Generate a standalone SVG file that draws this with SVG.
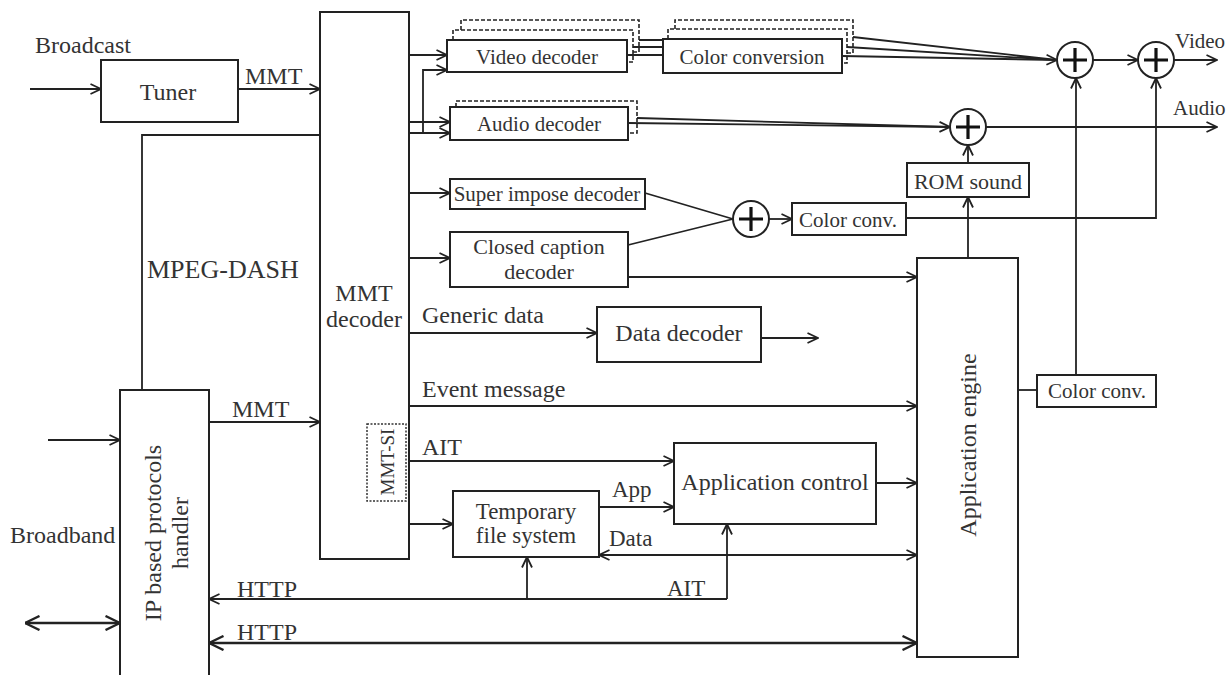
<svg xmlns="http://www.w3.org/2000/svg" width="1231" height="675" viewBox="0 0 1231 675">
<defs>
<marker id="a" viewBox="0 0 12 12" refX="11.5" refY="6" markerWidth="12" markerHeight="12" markerUnits="userSpaceOnUse" orient="auto-start-reverse"><path d="M1,1 L11.5,6 L1,11" fill="none" stroke="#222" stroke-width="1.8"/></marker>
<marker id="b" viewBox="0 0 16 16" refX="15.5" refY="8" markerWidth="16" markerHeight="16" markerUnits="userSpaceOnUse" orient="auto-start-reverse"><path d="M1,1 L15.5,8 L1,15" fill="none" stroke="#222" stroke-width="2.4"/></marker>
<style>
.bx{fill:#fff;stroke:#222;stroke-width:2}
.ds{fill:none;stroke:#222;stroke-width:1.6;stroke-dasharray:4 2}
.ln{fill:none;stroke:#222;stroke-width:1.8}
.ar{fill:none;stroke:#222;stroke-width:1.8;marker-end:url(#a)}
.bi{fill:none;stroke:#222;stroke-width:1.8;marker-end:url(#a);marker-start:url(#a)}
.bb{fill:none;stroke:#222;stroke-width:2.6;marker-end:url(#b);marker-start:url(#b)}
.t{font-family:"Liberation Serif","Times New Roman",serif;fill:#333;font-size:24px}
.s{font-size:21px}
.m{text-anchor:middle}
.c{fill:#fff;stroke:#222;stroke-width:2}
.p{stroke:#111;stroke-width:3.2}
</style>
</defs>

<g id="connectors">
<path class="ar" d="M30,89 H101"/>
<path class="ar" d="M238,89 H320"/>
<path class="ln" d="M320,135 H142 V390"/>
<path class="ar" d="M48,440 H120"/>
<path class="bb" d="M25,623 H120"/>
<path class="ar" d="M209,422 H320"/>
<path class="ar" d="M409,55 H447"/>
<path class="ar" d="M423,133 V70 H447"/>
<path class="ar" d="M409,122 H450"/>
<path class="ar" d="M409,133 H450"/>
<path class="ln" d="M639,40 H663 M633,47 H663 M627,55 H663"/>
<path class="ln" d="M853,37 L1057,60 M847,47 L1057,60"/>
<path class="ar" d="M842,56 L1057,60"/>
<path class="ln" d="M637,118 L950,127"/>
<path class="ar" d="M628,123 L950,127"/>
<path class="ar" d="M1093,60 H1138"/>
<path class="ar" d="M1174,60 H1217"/>
<path class="ar" d="M986,127 H1217"/>
<path class="ar" d="M968,163 V145"/>
<path class="ar" d="M968,258 V197"/>
<path class="ar" d="M1076,375 V78"/>
<path class="ar" d="M906,218 H1156 V78"/>
<path class="ln" d="M1018,390 H1037"/>
<path class="ar" d="M409,193 H450"/>
<path class="ar" d="M409,258 H450"/>
<path class="ln" d="M645,193 L733,219 M628,245 L733,219"/>
<path class="ar" d="M769,219 H792"/>
<path class="ar" d="M628,277 H917"/>
<path class="ar" d="M409,333 H597"/>
<path class="ar" d="M761,338 H818"/>
<path class="ar" d="M409,406 H917"/>
<path class="ar" d="M409,461 H674"/>
<path class="ar" d="M409,524 H453"/>
<path class="ar" d="M599,507 H674"/>
<path class="ar" d="M876,483 H917"/>
<path class="bi" d="M599,555 H917"/>
<path class="ar" d="M727,599 H209"/>
<path class="ar" d="M727,599 V524"/>
<path class="ar" d="M527,599 V557"/>
<path class="bb" d="M209,643 H917"/>
</g>

<g id="labels">
<text class="t" x="35" y="53">Broadcast</text>
<text class="t" x="245" y="84">MMT</text>
<text class="t" x="147" y="278" style="font-size:26px">MPEG-DASH</text>
<text class="t" x="232" y="417">MMT</text>
<text class="t" x="10" y="543">Broadband</text>
<text class="t" x="237" y="597">HTTP</text>
<text class="t" x="237" y="640">HTTP</text>
<text class="t" x="422" y="323">Generic data</text>
<text class="t" x="422" y="397">Event message</text>
<text class="t" x="422" y="455">AIT</text>
<text class="t" x="612" y="497" style="font-size:23px">App</text>
<text class="t" x="609" y="546" style="font-size:23px">Data</text>
<text class="t" x="667" y="596" style="font-size:23px">AIT</text>
<text class="t s" x="1175" y="48">Video</text>
<text class="t s" x="1173" y="115">Audio</text>
</g>

<g id="tuner"><rect class="bx" x="101" y="60" width="137" height="62"/><text class="t m" x="168" y="100">Tuner</text></g>

<g id="mmt-decoder"><rect class="bx" x="320" y="12" width="89" height="547"/><text class="t m" x="364" y="301">MMT</text><text class="t m" x="364" y="327">decoder</text>
<rect x="367" y="424" width="39" height="77" fill="none" stroke="#333" stroke-width="1.5" stroke-dasharray="2 1.5"/>
<text class="t m" transform="translate(387,462) rotate(-90)" dominant-baseline="central" style="font-size:19px">MMT-SI</text></g>

<g id="ip-handler"><rect class="bx" x="120" y="390" width="89" height="295"/>
<text class="t m" transform="translate(153,533) rotate(-90)" dominant-baseline="central">IP based protocols</text>
<text class="t m" transform="translate(180,533) rotate(-90)" dominant-baseline="central">handler</text></g>

<g id="video-decoder">
<path class="ds" d="M461,30 V20 H639 V52 H633"/>
<path class="ds" d="M453,40 V30 H633 V62 H627"/>
<rect class="bx" x="447" y="40" width="180" height="32"/><text class="t s m" x="537" y="64">Video decoder</text></g>

<g id="color-conversion">
<path class="ds" d="M675,29 V20 H853 V53 H847"/>
<path class="ds" d="M668,39 V29 H847 V63 H842"/>
<rect class="bx" x="663" y="39" width="179" height="34"/><text class="t s m" x="752" y="64">Color conversion</text></g>

<g id="audio-decoder">
<path class="ds" d="M456,107 V101 H637 V133 H628"/>
<rect class="bx" x="450" y="107" width="178" height="33"/><text class="t s m" x="539" y="131">Audio decoder</text></g>

<g id="plus-video-1"><circle class="c" cx="1075" cy="60" r="18"/><path class="p" d="M1063,60 H1087 M1075,48 V72"/></g>
<g id="plus-video-2"><circle class="c" cx="1156" cy="60" r="18"/><path class="p" d="M1144,60 H1168 M1156,48 V72"/></g>
<g id="plus-audio"><circle class="c" cx="968" cy="127" r="18"/><path class="p" d="M956,127 H980 M968,115 V139"/></g>
<g id="plus-caption"><circle class="c" cx="751" cy="219" r="18"/><path class="p" d="M739,219 H763 M751,207 V231"/></g>

<g id="rom-sound"><rect class="bx" x="907" y="163" width="122" height="34"/><text class="t s m" x="968" y="189" style="font-size:22px">ROM sound</text></g>

<g id="superimpose-decoder"><rect class="bx" x="450" y="179" width="195" height="30"/><text class="t s m" x="547" y="201">Super impose decoder</text></g>

<g id="closed-caption-decoder"><rect class="bx" x="450" y="232" width="178" height="55"/><text class="t m" x="539" y="254" style="font-size:22px">Closed caption</text><text class="t m" x="539" y="279" style="font-size:22px">decoder</text></g>

<g id="color-conv-mid"><rect class="bx" x="792" y="203" width="114" height="32"/><text class="t s m" x="848" y="227">Color conv.</text></g>

<g id="data-decoder"><rect class="bx" x="597" y="307" width="164" height="55"/><text class="t m" x="679" y="341">Data decoder</text></g>

<g id="temporary-fs"><rect class="bx" x="453" y="491" width="146" height="66"/><text class="t m" x="526" y="519" style="font-size:23px">Temporary</text><text class="t m" x="526" y="543" style="font-size:23px">file system</text></g>

<g id="application-control"><rect class="bx" x="674" y="443" width="202" height="81"/><text class="t m" x="775" y="490">Application control</text></g>

<g id="application-engine"><rect class="bx" x="917" y="258" width="101" height="399"/>
<text class="t m" transform="translate(968,445) rotate(-90)" dominant-baseline="central">Application engine</text></g>

<g id="color-conv-right"><rect class="bx" x="1037" y="375" width="119" height="32"/><text class="t s m" x="1097" y="398">Color conv.</text></g>
</svg>
